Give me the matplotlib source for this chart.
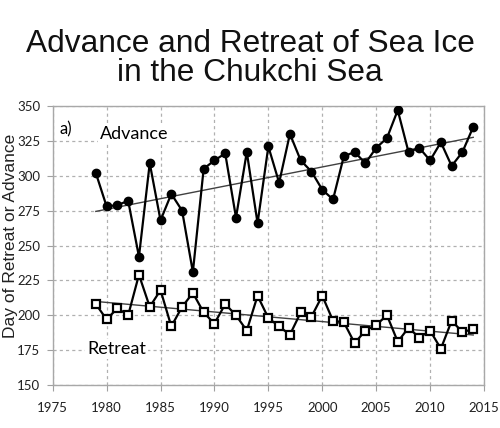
import numpy as np
import matplotlib
matplotlib.use("Agg")
import matplotlib.pyplot as plt

years = list(range(1979, 2015))
advance = [302, 278, 279, 282, 242, 309, 268, 287, 275, 231, 305, 311, 316, 270, 317, 266,
           321, 295, 330, 311, 303, 290, 283, 314, 317, 309, 320, 327, 347, 317, 320, 311,
           324, 307, 317, 335]
retreat = [208, 197, 205, 200, 229, 206, 218, 192, 206, 216, 202, 194, 208, 200, 189, 214,
           198, 192, 186, 202, 199, 214, 196, 195, 180, 189, 193, 200, 181, 191, 184, 189,
           176, 196, 188, 190]
xticks = [1975, 1980, 1985, 1990, 1995, 2000, 2005, 2010, 2015]
yticks = [150, 175, 200, 225, 250, 275, 300, 325, 350]

title = "Advance and Retreat of Sea Ice\nin the Chukchi Sea"
ylabel = "Day of Retreat or Advance"

tickfont = ['Lato', 'DejaVu Sans']

fig = plt.figure(figsize=(5.0, 4.28), dpi=100)
ax = fig.add_axes([0.1054, 0.1005, 0.8626, 0.6518])

yr = np.array(years, dtype=float)
for series in (advance, retreat):
    k, b = np.polyfit(yr, np.array(series, dtype=float), 1)
    ax.plot([yr[0], yr[-1]], [k * yr[0] + b, k * yr[-1] + b], color='#404040', lw=1.0, zorder=2)

ax.plot(years, advance, color='black', lw=1.6, marker='o', ms=6, mfc='black', mec='black', zorder=3)
ax.plot(years, retreat, color='black', lw=1.6, marker='s', ms=5.5, mfc='white', mec='black', mew=1.6, zorder=3)

ax.set_xlim(1975, 2015)
ax.set_ylim(150, 350)
ax.set_xticks(xticks)
ax.set_yticks(yticks)
ax.set_xticklabels([str(t) for t in xticks], family=tickfont, fontsize=9.5)
ax.set_yticklabels([str(t) for t in yticks], family=tickfont, fontsize=9.5)
ax.tick_params(axis='both', direction='out', length=4, width=0.8, color='#a0a0a0', labelcolor='#202020')
ax.tick_params(axis='x', pad=8)
ax.tick_params(axis='y', pad=5)
ax.grid(True, color='#b0b0b0', linestyle=(0, (2.5, 2.5)), linewidth=0.9)
ax.set_axisbelow(True)
for s in ax.spines.values():
    s.set_color('#a8a8a8')
    s.set_linewidth(1.0)

ax.text(0.016, 0.945, "a)", transform=ax.transAxes, family=tickfont, fontsize=12, va='top', ha='left')
ax.text(1982.6, 330, "Advance", family=tickfont, fontsize=13, va='center', ha='center',
        bbox=dict(fc='white', ec='none', pad=1.5), zorder=2.5)
ax.text(1980.9, 176, "Retreat", family=tickfont, fontsize=13, va='center', ha='center',
        bbox=dict(fc='white', ec='none', pad=1.5), zorder=2.5)

fig.text(0.5, 0.933, title, ha='center', va='top', family=['Liberation Sans', 'DejaVu Sans'],
         fontsize=22.8, linespacing=0.98, color='#111111')
fig.text(0.021, 0.449, ylabel, rotation=90, ha='center', va='center',
         family=['Liberation Sans', 'DejaVu Sans'], fontsize=12.5, color='#222222')

fig.savefig("out.png", dpi=100)
